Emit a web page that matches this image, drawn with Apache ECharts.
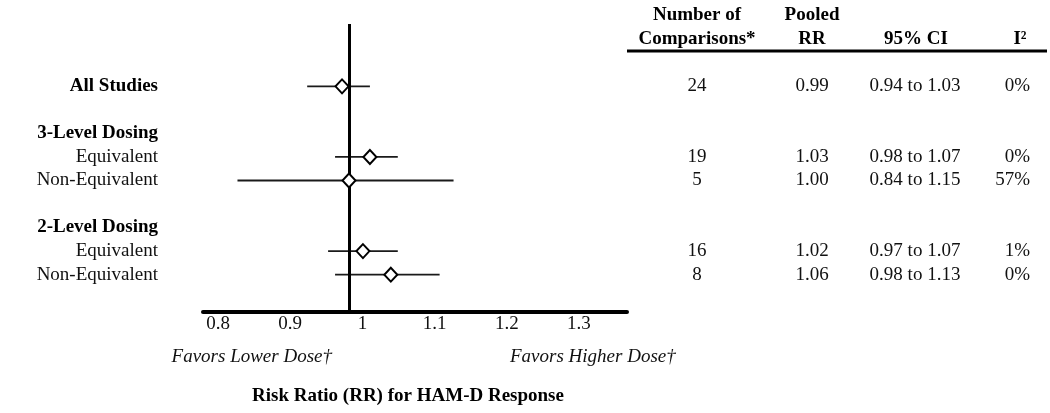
<!DOCTYPE html>
<html>
<head>
<meta charset="utf-8">
<script src="https://cdn.jsdelivr.net/npm/echarts@6/dist/echarts.min.js"></script>
<style>
html,body{margin:0;padding:0;background:#fff;}
#chart{width:1050px;height:413px;}
</style>
</head>
<body>
<div id="chart"></div>
<script>
// ---- data ----
const rowNames = ['All Studies', '3-Level Dosing', 'Equivalent', 'Non-Equivalent', '2-Level Dosing', 'Equivalent', 'Non-Equivalent'];
const rowSlots = [0, 2, 3, 4, 6, 7, 8];
const rowIsGroup = [true, true, false, false, true, false, false];
const pooledRR = [0.99, null, 1.03, 1.00, null, 1.02, 1.06];
const ciLow = [0.94, null, 0.98, 0.84, null, 0.97, 0.98];
const ciHigh = [1.03, null, 1.07, 1.15, null, 1.07, 1.13];
const nComparisons = [24, null, 19, 5, null, 16, 8];
const i2Percent = [0, null, 0, 57, null, 1, 0];
const xTickLabels = [0.8, 0.9, 1, 1.1, 1.2, 1.3];
const headerNumber = 'Number of\nComparisons*';
const headerPooled = 'Pooled\nRR';
const headerCI = '95% CI';
const headerI2 = 'I²';
const favorsLeft = 'Favors Lower Dose†';
const favorsRight = 'Favors Higher Dose†';
const axisTitle = 'Risk Ratio (RR) for HAM-D Response';
const refValue = 1;

// ---- chart ----
const FONT = '"Liberation Serif", "Times New Roman", serif';
const TXT = '#111';
const chart = echarts.init(document.getElementById('chart'), null, {renderer: 'canvas'});

const dataRows = rowSlots.map((s, i) => i).filter(i => pooledRR[i] != null);
const slotsWithData = dataRows.map(i => rowSlots[i]);
function rowIndexOf(v) { return rowSlots.indexOf(Math.round(v)); }

const yMin = -2.65, yMax = 9.587;
function makeRightAxis(margin, align, fmt) {
  return {
    type: 'value', gridIndex: 0, position: 'right', inverse: true,
    min: yMin, max: yMax,
    axisLine: {show: false}, axisTick: {show: false}, splitLine: {show: false},
    axisLabel: {
      customValues: slotsWithData, margin: margin, align: align,
      fontFamily: FONT, fontSize: 19, color: TXT,
      formatter: v => { const i = rowIndexOf(v); return i < 0 ? '' : fmt(i); }
    }
  };
}

const ciData = dataRows.map(i => [ciLow[i], ciHigh[i], rowSlots[i]]);
const pointData = dataRows.map(i => [pooledRR[i], rowSlots[i]]);

const option = {
  animation: false,
  backgroundColor: '#fff',
  grid: {left: 203, right: 423, top: 24, height: 288},
  xAxis: [
    {
      type: 'value', min: 0.79053, max: 1.39885, position: 'bottom',
      axisLine: {show: true, onZero: false, lineStyle: {color: '#000', width: 4}},
      axisTick: {show: false}, splitLine: {show: false}, axisLabel: {show: false}
    },
    {
      type: 'value', min: 0.7792, max: 1.3665, position: 'bottom', offset: 0,
      axisLine: {show: false}, axisTick: {show: false}, splitLine: {show: false},
      axisLabel: {
        customValues: xTickLabels, margin: 3,
        fontFamily: FONT, fontSize: 19, color: TXT,
        formatter: v => String(v)
      }
    }
  ],
  yAxis: [
    {
      type: 'value', inverse: true, min: yMin, max: yMax,
      axisLine: {show: false}, axisTick: {show: false}, splitLine: {show: false},
      axisLabel: {
        customValues: rowSlots, margin: 45, align: 'right',
        fontFamily: FONT, fontSize: 19, color: TXT,
        formatter: v => {
          const i = rowIndexOf(v);
          if (i < 0) return '';
          return rowIsGroup[i] ? '{b|' + rowNames[i] + '}' : rowNames[i];
        },
        rich: {b: {fontFamily: FONT, fontSize: 19, fontWeight: 'bold', color: '#000'}}
      }
    },
    makeRightAxis(70, 'center', i => String(nComparisons[i])),
    makeRightAxis(185, 'center', i => pooledRR[i].toFixed(2)),
    makeRightAxis(288, 'center', i => ciLow[i].toFixed(2) + ' to ' + ciHigh[i].toFixed(2)),
    makeRightAxis(403, 'right', i => i2Percent[i] + '%')
  ],
  series: [
    {
      type: 'custom', xAxisIndex: 0, yAxisIndex: 0, z: 2,
      data: ciData,
      renderItem: (params, api) => {
        const p1 = api.coord([api.value(0), api.value(2)]);
        const p2 = api.coord([api.value(1), api.value(2)]);
        return {
          type: 'line',
          shape: {x1: p1[0], y1: p1[1], x2: p2[0], y2: p2[1]},
          style: {stroke: '#1a1a1a', lineWidth: 1.8}
        };
      },
      markLine: {
        silent: true, symbol: ['none', 'none'], label: {show: false},
        lineStyle: {color: '#000', width: 3, type: 'solid'},
        data: [{xAxis: refValue}]
      }
    },
    {
      type: 'scatter', xAxisIndex: 0, yAxisIndex: 0, z: 5,
      symbol: 'diamond', symbolSize: [13, 14],
      itemStyle: {color: '#fff', borderColor: '#000', borderWidth: 2, opacity: 1},
      data: pointData
    }
  ],
  graphic: [
    {type: 'text', x: 697, y: 27, style: {text: headerNumber, font: 'bold 19px ' + FONT, fill: '#000', align: 'center', verticalAlign: 'middle', lineHeight: 24}},
    {type: 'text', x: 812, y: 27, style: {text: headerPooled, font: 'bold 19px ' + FONT, fill: '#000', align: 'center', verticalAlign: 'middle', lineHeight: 24}},
    {type: 'text', x: 916, y: 39, style: {text: headerCI, font: 'bold 19px ' + FONT, fill: '#000', align: 'center', verticalAlign: 'middle'}},
    {type: 'text', x: 1020, y: 39, style: {text: headerI2, font: 'bold 19px ' + FONT, fill: '#000', align: 'center', verticalAlign: 'middle'}},
    {type: 'line', shape: {x1: 627, y1: 51, x2: 1047, y2: 51}, style: {stroke: '#000', lineWidth: 3}},
    {type: 'text', x: 332, y: 357, style: {text: favorsLeft, font: 'italic 19px ' + FONT, fill: TXT, align: 'right', verticalAlign: 'middle'}},
    {type: 'text', x: 510, y: 357, style: {text: favorsRight, font: 'italic 19px ' + FONT, fill: TXT, align: 'left', verticalAlign: 'middle'}},
    {type: 'text', x: 408, y: 396, style: {text: axisTitle, font: 'bold 19px ' + FONT, fill: '#000', align: 'center', verticalAlign: 'middle'}}
  ]
};
chart.setOption(option);
</script>
</body>
</html>
